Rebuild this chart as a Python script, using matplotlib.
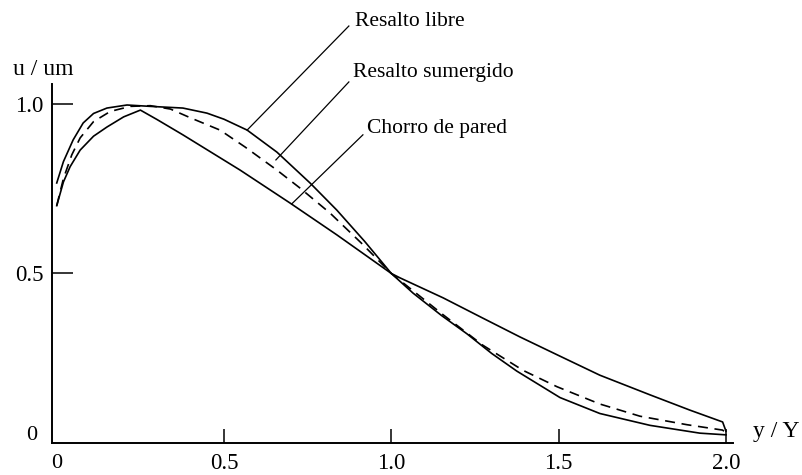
import matplotlib
matplotlib.use('Agg')
import matplotlib.pyplot as plt

plt.rcParams['font.family'] = ['Liberation Serif', 'DejaVu Serif']

# Resalto libre (solid)
libre_x = [0.0, 0.02, 0.049, 0.079, 0.11, 0.15, 0.21, 0.279, 0.377, 0.449, 0.50, 0.569, 0.658,
           0.757, 0.837, 0.92, 1.0, 1.065, 1.15, 1.226, 1.30, 1.375, 1.504, 1.623, 1.773, 1.922, 2.0]
libre_y = [0.767, 0.83, 0.894, 0.944, 0.972, 0.988, 0.997, 0.993, 0.988, 0.973, 0.955, 0.923, 0.858,
           0.767, 0.687, 0.595, 0.5, 0.442, 0.376, 0.322, 0.264, 0.212, 0.134, 0.087, 0.052, 0.029, 0.024]

# Resalto sumergido (dashed)
sumer_x = [0.0, 0.02, 0.045, 0.07, 0.11, 0.16, 0.22, 0.28, 0.34, 0.40, 0.488, 0.563, 0.658, 0.727,
           0.817, 0.91, 1.0, 1.07, 1.155, 1.274, 1.394, 1.495, 1.623, 1.743, 1.883, 1.99, 2.0]
sumer_y = [0.70, 0.78, 0.85, 0.90, 0.948, 0.978, 0.993, 0.995, 0.985, 0.959, 0.923, 0.873, 0.805, 0.752,
           0.678, 0.59, 0.5, 0.445, 0.378, 0.288, 0.214, 0.166, 0.115, 0.079, 0.054, 0.038, 0.03]

# Chorro de pared (solid)
chorro_x = [0.0, 0.02, 0.04, 0.07, 0.11, 0.15, 0.20, 0.25, 0.30, 0.377, 0.548, 0.697, 0.837,
            0.92, 1.0, 1.026, 1.155, 1.27, 1.384, 1.50, 1.623, 1.773, 1.892, 1.99, 2.0]
chorro_y = [0.70, 0.77, 0.815, 0.864, 0.905, 0.932, 0.962, 0.982, 0.954, 0.909, 0.805, 0.708, 0.614,
            0.556, 0.5, 0.487, 0.428, 0.37, 0.313, 0.258, 0.20, 0.142, 0.097, 0.062, 0.035]

x_ticks = [0.5, 1.0, 1.5, 2.0]
x_tick_labels = ['0.5', '1.0', '1.5', '2.0']
y_ticks = [0.5, 1.0]
y_tick_labels = ['0.5', '1.0']

fig = plt.figure(figsize=(8.03, 4.75), dpi=100)
ax = fig.add_axes([0.0644, 0.0674, 0.848, 0.7565])

ax.plot(libre_x, libre_y, color='black', lw=1.2)
ax.plot(sumer_x, sumer_y, color='black', lw=1.2, linestyle=(0, (6, 4)))
ax.plot(chorro_x, chorro_y, color='black', lw=1.2)

ax.set_xlim(-0.015, 2.02)
ax.set_ylim(0, 1.06)
ax.spines['top'].set_visible(False)
ax.spines['right'].set_visible(False)
ax.spines['left'].set_linewidth(1.4)
ax.spines['bottom'].set_linewidth(1.4)

ax.set_xticks(x_ticks)
ax.set_xticklabels(x_tick_labels)
ax.set_yticks(y_ticks)
ax.set_yticklabels(y_tick_labels)
ax.tick_params(axis='x', direction='in', length=10, width=1.1, pad=7, labelsize=16.5)
ax.tick_params(axis='y', direction='in', length=15, width=1.1, pad=6, labelsize=16.5)

# zero labels
ax.text(0.0, -0.06, '0', ha='center', va='center', fontsize=16, clip_on=False)
ax.text(-0.074, 0.023, '0', ha='center', va='center', fontsize=16, clip_on=False)

# axis titles
ax.text(-0.131, 1.086, 'u / um', ha='left', va='baseline', fontsize=17, clip_on=False)
ax.text(2.08, 0.018, 'y / Y', ha='left', va='baseline', fontsize=17, clip_on=False)

# leader lines and labels
ax.plot([0.873, 0.569], [1.230, 0.923], color='black', lw=0.9, clip_on=False)
ax.plot([0.873, 0.655], [1.065, 0.835], color='black', lw=0.9, clip_on=False)
ax.plot([0.915, 0.702], [0.909, 0.705], color='black', lw=0.9, clip_on=False)

ax.text(0.892, 1.230, 'Resalto libre', ha='left', va='baseline', fontsize=15.5, clip_on=False)
ax.text(0.886, 1.080, 'Resalto sumergido', ha='left', va='baseline', fontsize=15.5, clip_on=False)
ax.text(0.927, 0.914, 'Chorro de pared', ha='left', va='baseline', fontsize=15.5, clip_on=False)

fig.savefig('out.png', dpi=100)
